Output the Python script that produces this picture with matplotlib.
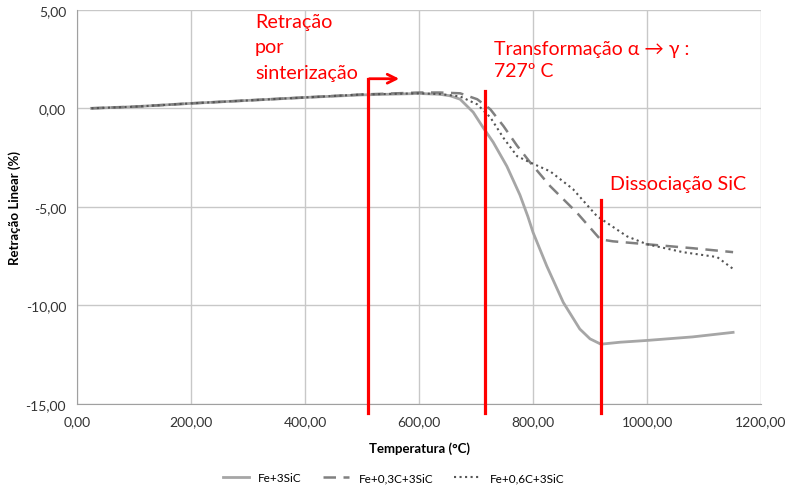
import matplotlib.pyplot as plt
import numpy as np
from matplotlib.ticker import FuncFormatter

plt.rcParams['font.family'] = ['Lato', 'DejaVu Sans']

# dilatometria: temperatura (°C) x retração linear (%)
temp_a = [25, 100, 200, 300, 400, 500, 600, 637, 655, 672, 695, 712, 730, 754, 777, 791, 800, 824, 853, 882, 900, 919, 953, 1000, 1080, 1151]
fe_3sic = [0.0, 0.08, 0.25, 0.4, 0.55, 0.68, 0.75, 0.71, 0.63, 0.46, -0.2, -0.96, -1.72, -2.94, -4.4, -5.5, -6.3, -8.0, -9.85, -11.2, -11.7, -11.97, -11.87, -11.78, -11.6, -11.37]

temp_b = [25, 100, 200, 300, 400, 500, 600, 637, 672, 702, 725, 748, 772, 795, 830, 877, 918, 940, 1000, 1080, 1151]
fe_03c = [0.0, 0.08, 0.25, 0.4, 0.55, 0.7, 0.8, 0.8, 0.76, 0.46, -0.05, -0.9, -1.9, -2.75, -3.95, -5.3, -6.65, -6.75, -6.9, -7.1, -7.3]

temp_c = [25, 100, 200, 300, 400, 500, 600, 637, 672, 702, 725, 748, 772, 795, 830, 870, 912, 965, 1000, 1063, 1123, 1151]
fe_06c = [0.0, 0.08, 0.25, 0.4, 0.55, 0.7, 0.76, 0.72, 0.6, 0.2, -0.46, -1.5, -2.43, -2.75, -3.2, -4.1, -5.47, -6.5, -6.9, -7.3, -7.55, -8.15]

# marcadores das transformações
t_sinter = 510
t_alfa_gama = 715
t_sic = 919
top_sinter, top_alfa, top_sic = 1.5, 0.86, -4.65

fig = plt.figure(figsize=(7.87, 4.89), dpi=100)
ax = fig.add_axes([0.098, 0.172, 0.869, 0.806])

ax.plot(temp_a, fe_3sic, '-', color='#a6a6a6', lw=2, label='Fe+3SiC')
ax.plot(temp_b, fe_03c, '--', color='#808080', lw=1.8, dashes=(5, 3), label='Fe+0,3C+3SiC')
ax.plot(temp_c, fe_06c, ':', color='#555555', lw=1.5, label='Fe+0,6C+3SiC')

ax.set_xlim(0, 1200)
ax.set_ylim(-15, 5)
ax.set_xticks(np.arange(0, 1201, 200))
ax.set_yticks(np.arange(-15, 5.1, 5))
fmt = FuncFormatter(lambda v, p: ('%.2f' % v).replace('.', ','))
ax.xaxis.set_major_formatter(fmt)
ax.yaxis.set_major_formatter(fmt)
ax.tick_params(length=0, labelsize=10, colors='#333333', pad=8)
ax.grid(color='#c8c8c8', lw=1)
ax.set_axisbelow(True)
for s in ax.spines.values():
    s.set_color('#a0a0a0')
ax.spines['top'].set_visible(False)
ax.spines['right'].set_visible(False)

ax.set_xlabel('Temperatura (°C)', fontsize=9.5, fontweight='bold', labelpad=10)
ax.set_ylabel('Retração Linear (%)', fontsize=9.5, fontweight='bold', labelpad=3)

# linhas vermelhas
for t, top in [(t_sinter, top_sinter), (t_alfa_gama, top_alfa), (t_sic, top_sic)]:
    ax.plot([t, t], [-15.45, top], color='red', lw=2.3, clip_on=False, zorder=5)
ax.annotate('', xy=(570, top_sinter), xytext=(t_sinter - 2, top_sinter),
            arrowprops=dict(arrowstyle='->', color='red', lw=2, mutation_scale=16),
            zorder=5)

ax.text(312, 4.85, 'Retração\npor\nsinterização', color='red', fontsize=14.2,
        va='top', ha='left', linespacing=1.6)
ax.text(731, 3.45, 'Transformação α → γ :\n727º C', color='red', fontsize=14,
        va='top', ha='left', linespacing=1.3)
ax.text(935, -3.8, 'Dissociação SiC', color='red', fontsize=14.2,
        va='center', ha='left')

fig.legend(loc='lower center', bbox_to_anchor=(0.5, -0.012), ncol=3, frameon=False,
           fontsize=8.5, handlelength=2.2, columnspacing=1.8)

plt.savefig('out.png', dpi=100)
